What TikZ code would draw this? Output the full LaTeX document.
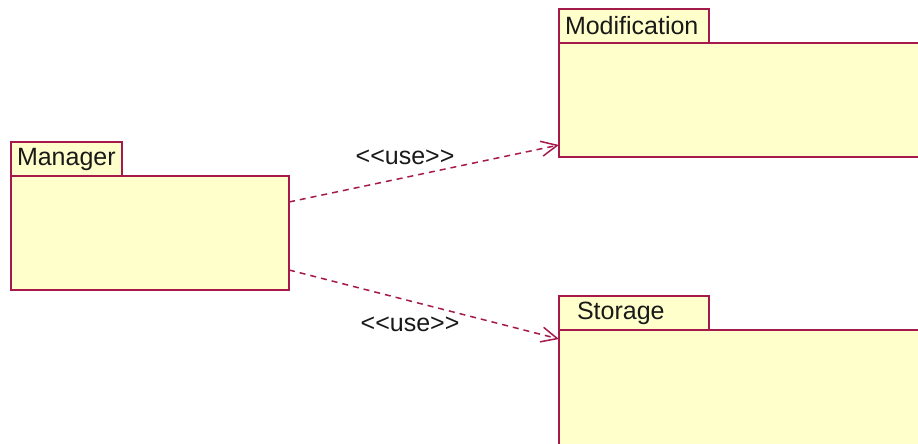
\documentclass[tikz,border=0pt]{standalone}
\usepackage{fontspec}
\usepackage{tikz}
\usetikzlibrary{positioning, arrows.meta}
\newfontfamily\umlfont{Liberation Sans}
\definecolor{PkgBorder}{RGB}{165,25,75}
\definecolor{PkgFill}{RGB}{255,255,204}
\definecolor{PkgText}{RGB}{25,25,25}
\tikzset{
  pkgbody/.style={rectangle, draw=PkgBorder, fill=PkgFill, line width=1.5pt, outer sep=0pt, anchor=north west},
  pkgtab/.style={rectangle, draw=PkgBorder, fill=PkgFill, line width=1.5pt, outer sep=0pt, minimum height=34pt, inner ysep=0pt, inner xsep=6pt, align=left, text=PkgText, font=\umlfont\fontsize{25}{30}\selectfont},
  usedep/.style={PkgBorder, line width=1.5pt, dash pattern=on 6pt off 5pt, -{Straight Barb[length=16pt, width=15pt]}},
  uselabel/.style={text=PkgText, inner sep=0pt, font=\umlfont\fontsize{25}{30}\selectfont}
}
\begin{document}
\begin{tikzpicture}[x=1pt, y=-1pt]
  \useasboundingbox (0,0) rectangle (918,444);
  \clip (0,0) rectangle (918,444);
  % Packages
  \node[pkgbody, minimum width=278pt, minimum height=114pt] (manager) at (11,176) {};
  \node[pkgtab, text width=99pt, above right=0pt and 0pt of manager.north west] (managertab) {Manager};
  \node[pkgbody, minimum width=400pt, minimum height=114pt] (modification) at (559,43) {};
  \node[pkgtab, text width=138pt, above right=0pt and 0pt of modification.north west] (modificationtab) {Modification};
  \node[pkgbody, minimum width=400pt, minimum height=160pt] (storage) at (559,330) {};
  \node[pkgtab, inner xsep=18pt, text width=114pt, above right=0pt and 0pt of storage.north west] (storagetab) {Storage};
  % Dependencies
  \draw[usedep] ([yshift=31pt]manager.east) -- ([yshift=12pt]modification.south west);
  \draw[usedep] ([yshift=-37pt]manager.east) -- ([yshift=-9pt]storage.north west);
  \node[uselabel] (usemod) at (405,157) {<<use>>};
  \node[uselabel] (usestore) at (410,324) {<<use>>};
\end{tikzpicture}
\end{document}
